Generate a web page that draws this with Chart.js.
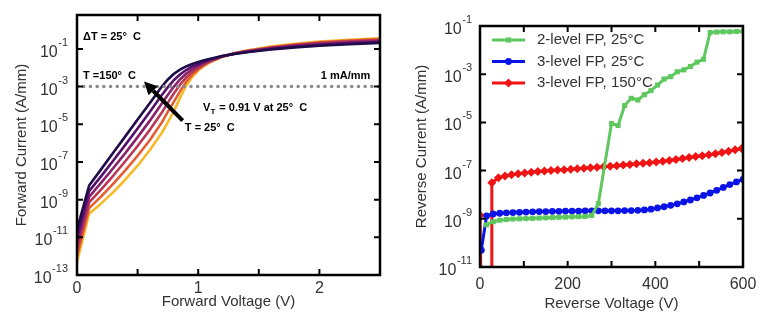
<!DOCTYPE html>
<html>
<head>
<meta charset="utf-8">
<script src="https://cdn.jsdelivr.net/npm/chart.js@4.4.0/dist/chart.umd.min.js"></script>
<style>
  html, body { margin: 0; padding: 0; background: #fff; }
  #wrap { position: relative; width: 768px; height: 323px; }
  .panel { position: absolute; top: 0; height: 323px; }
  #left { left: 0; width: 390px; }
  #right { left: 390px; width: 378px; }
</style>
</head>
<body>
<div id="wrap">
  <div class="panel" id="left"><canvas id="fwd"></canvas></div>
  <div class="panel" id="right"><canvas id="rev"></canvas></div>
</div>
<script>
// forward I-V: bias points (V) and log10 of forward current (A/mm), one list per temperature
const forwardV = [0, 0.1, 0.2, 0.3, 0.4, 0.5, 0.6, 0.7, 0.75, 0.8, 0.85, 0.9, 0.95, 1.0, 1.05, 1.1, 1.2, 1.3, 1.4, 1.6, 1.8, 2.0, 2.25, 2.5];
const temps = [150, 125, 100, 75, 50, 25];
const logIf150 = [-10.6, -8.25, -7.38, -6.5, -5.63, -4.75, -3.88, -3.0, -2.62, -2.32, -2.1, -1.93, -1.8, -1.7, -1.6, -1.52, -1.38, -1.27, -1.18, -1.03, -0.92, -0.83, -0.75, -0.68];
const logIf125 = [-11.0, -8.55, -7.75, -6.92, -6.08, -5.22, -4.35, -3.45, -3.03, -2.65, -2.36, -2.12, -1.94, -1.8, -1.67, -1.56, -1.38, -1.26, -1.16, -1.0, -0.88, -0.78, -0.7, -0.63];
const logIf100 = [-11.35, -8.85, -8.1, -7.32, -6.52, -5.68, -4.82, -3.9, -3.43, -3.0, -2.62, -2.32, -2.08, -1.9, -1.74, -1.6, -1.39, -1.25, -1.14, -0.97, -0.84, -0.74, -0.65, -0.58];
const logIf75 = [-11.7, -9.15, -8.45, -7.72, -6.95, -6.15, -5.3, -4.38, -3.85, -3.35, -2.9, -2.52, -2.23, -2.0, -1.81, -1.64, -1.4, -1.24, -1.12, -0.94, -0.8, -0.69, -0.6, -0.53];
const logIf50 = [-12.0, -9.45, -8.83, -8.15, -7.43, -6.67, -5.85, -4.9, -4.33, -3.8, -3.25, -2.75, -2.38, -2.08, -1.86, -1.68, -1.41, -1.23, -1.1, -0.91, -0.77, -0.65, -0.55, -0.48];
const logIf25 = [-12.3, -9.75, -9.2, -8.6, -7.93, -7.2, -6.38, -5.45, -4.88, -4.3, -3.6, -2.95, -2.5, -2.15, -1.9, -1.7, -1.41, -1.22, -1.08, -0.88, -0.73, -0.61, -0.51, -0.43];
const tempColors = ['#1f0c48', '#550f6d', '#88226a', '#ba3655', '#e55c30', '#f6b92a'];
const refCurrent = 1e-3; // 1 mA/mm threshold

// reverse leakage: bias points (V) and log10 of reverse current (A/mm)
const revV2L25 = [15, 30, 45, 60, 75, 90, 105, 120, 135, 150, 165, 180, 195, 210, 225, 240, 255, 270,
  300, 315, 330, 345, 360, 375, 390, 405, 420, 435, 450, 465, 480, 495, 510, 525, 540, 555, 570, 585, 600];
const logIr2L25 = [-9.25, -9.12, -9.06, -9.03, -9.01, -9.0, -8.99, -8.98, -8.97, -8.96, -8.95, -8.94, -8.93, -8.92, -8.91, -8.9, -8.86, -8.37,
  -5.05, -5.13, -4.3, -4.0, -4.07, -3.85, -3.68, -3.45, -3.2, -3.1, -2.9, -2.82, -2.68, -2.5, -2.38, -1.27, -1.25, -1.24, -1.24, -1.23, -1.22];
const revV3L25 = [3, 15, 30, 45, 60, 75, 90, 105, 120, 135, 150, 165, 180, 195, 210, 225, 240, 255, 270, 285, 300,
  315, 330, 345, 360, 375, 390, 405, 420, 435, 450, 465, 480, 495, 510, 525, 540, 555, 570, 585, 600];
const logIr3L25 = [-10.3, -8.88, -8.8, -8.77, -8.75, -8.74, -8.73, -8.72, -8.71, -8.7, -8.7, -8.69, -8.69, -8.68, -8.68, -8.68, -8.67, -8.67, -8.67, -8.67, -8.67,
  -8.67, -8.66, -8.66, -8.65, -8.63, -8.6, -8.55, -8.5, -8.44, -8.38, -8.3, -8.22, -8.13, -8.03, -7.93, -7.82, -7.7, -7.58, -7.47, -7.37];
const revV3L150 = [0, 3, 26, 27, 42, 57, 72, 87, 102, 117, 132, 147, 162, 177, 192, 207, 222, 237, 252, 267, 282, 297,
  312, 327, 342, 357, 372, 387, 402, 417, 432, 447, 462, 477, 492, 507, 522, 537, 552, 567, 582, 597];
const logIr3L150 = [-8.85, -12.5, -12.5, -7.5, -7.3, -7.22, -7.17, -7.13, -7.1, -7.07, -7.04, -7.02, -7.0, -6.98, -6.96, -6.94, -6.92, -6.9, -6.88, -6.86, -6.84, -6.82,
  -6.8, -6.77, -6.75, -6.72, -6.7, -6.67, -6.64, -6.61, -6.58, -6.54, -6.5, -6.46, -6.42, -6.38, -6.34, -6.3, -6.25, -6.2, -6.14, -6.08];

const FONT = '"Liberation Sans", Arial, Helvetica, sans-serif';
const TEXT = '#333';

function pairs(xs, logs) {
  return xs.map((v, i) => ({ x: v, y: Math.pow(10, logs[i]) }));
}

// box with inward ticks on all sides, 10^n labels and axis titles
const axisFrame = {
  id: 'axisFrame',
  afterDatasetsDraw(chart, args, o) {
    const { ctx, chartArea: a, scales: { x, y } } = chart;
    const yPix = e => y.getPixelForValue(Math.pow(10, e));
    ctx.save();
    ctx.strokeStyle = '#000';
    ctx.lineWidth = 2;
    ctx.beginPath();
    o.xTicks.forEach(v => {
      const px = x.getPixelForValue(v);
      ctx.moveTo(px, a.bottom); ctx.lineTo(px, a.bottom - 6);
      ctx.moveTo(px, a.top); ctx.lineTo(px, a.top + 6);
    });
    o.yTicks.forEach(e => {
      const py = yPix(e);
      ctx.moveTo(a.left, py); ctx.lineTo(a.left + 6, py);
      ctx.moveTo(a.right, py); ctx.lineTo(a.right - 6, py);
    });
    ctx.stroke();
    ctx.lineWidth = 2.5;
    ctx.strokeRect(a.left, a.top, a.right - a.left, a.bottom - a.top);

    ctx.fillStyle = TEXT;
    ctx.textBaseline = 'alphabetic';
    ctx.textAlign = 'center';
    ctx.font = '16px ' + FONT;
    o.xLabels.forEach(v => ctx.fillText(String(v), x.getPixelForValue(v), a.bottom + o.xLabelGap + 6));

    ctx.textAlign = 'right';
    o.yTicks.forEach(e => {
      const py = yPix(e);
      const exp = String(e);
      ctx.font = '11px ' + FONT;
      const ew = ctx.measureText(exp).width;
      const right = a.left - o.yLabelGap;
      ctx.fillText(exp, right, py - 3);
      ctx.font = '16px ' + FONT;
      ctx.fillText('10', right - ew - 0.5, py + 8);
    });

    ctx.font = '15px ' + FONT;
    ctx.textAlign = 'center';
    ctx.textBaseline = 'middle';
    ctx.fillText(o.xTitle, (a.left + a.right) / 2, o.xTitleY);
    ctx.translate(o.yTitleX, (a.top + a.bottom) / 2);
    ctx.rotate(-Math.PI / 2);
    ctx.fillText(o.yTitle, 0, 0);
    ctx.restore();
  }
};

// labels and arrow on the forward plot, placed in data units
const fwdNotes = {
  id: 'fwdNotes',
  afterDatasetsDraw(chart) {
    const { ctx, scales: { x, y } } = chart;
    const px = v => x.getPixelForValue(v);
    const py = e => y.getPixelForValue(Math.pow(10, e));
    ctx.save();
    ctx.fillStyle = '#000';
    ctx.font = 'bold 11px ' + FONT;
    ctx.textBaseline = 'middle';
    ctx.textAlign = 'left';
    ctx.fillText('ΔT = 25°  C', px(0.05), py(-0.36));
    ctx.fillText('T =150°  C', px(0.05), py(-2.42));
    ctx.fillText('T = 25°  C', px(0.89), py(-5.18));
    // V_T with subscript
    let vx = px(1.04);
    const vy = py(-4.15);
    ctx.fillText('V', vx, vy);
    vx += ctx.measureText('V').width;
    ctx.font = 'bold 8px ' + FONT;
    ctx.fillText('T', vx, vy + 4);
    vx += ctx.measureText('T').width + 1;
    ctx.font = 'bold 11px ' + FONT;
    ctx.fillText(' = 0.91 V at 25°  C', vx, vy);
    ctx.textAlign = 'right';
    ctx.fillText('1 mA/mm', px(2.42), py(-2.42));

    // arrow from the 25 °C curve towards the 150 °C curve
    const tx = px(0.872), ty = py(-4.81), hx = px(0.553), hy = py(-2.73);
    const ang = Math.atan2(hy - ty, hx - tx);
    const headLen = 13, headW = 6.5;
    const bx = hx - headLen * Math.cos(ang), by = hy - headLen * Math.sin(ang);
    ctx.strokeStyle = '#000';
    ctx.lineWidth = 4;
    ctx.beginPath();
    ctx.moveTo(tx, ty);
    ctx.lineTo(bx, by);
    ctx.stroke();
    ctx.beginPath();
    ctx.moveTo(hx, hy);
    ctx.lineTo(bx + headW * Math.sin(ang), by - headW * Math.cos(ang));
    ctx.lineTo(bx - headW * Math.sin(ang), by + headW * Math.cos(ang));
    ctx.closePath();
    ctx.fill();
    ctx.restore();
  }
};

function drawMarker(ctx, style, r, cx, cy) {
  ctx.beginPath();
  if (style === 'rect') {
    const s = r * Math.SQRT1_2;
    ctx.rect(cx - s, cy - s, 2 * s, 2 * s);
  } else if (style === 'rectRot') {
    ctx.moveTo(cx, cy - r); ctx.lineTo(cx + r, cy); ctx.lineTo(cx, cy + r); ctx.lineTo(cx - r, cy);
    ctx.closePath();
  } else {
    ctx.arc(cx, cy, r, 0, Math.PI * 2);
  }
  ctx.fill();
}

// legend in the upper left of the reverse plot: line sample with marker, then text
const revLegend = {
  id: 'revLegend',
  afterDatasetsDraw(chart) {
    const { ctx, chartArea: a } = chart;
    ctx.save();
    chart.data.datasets.forEach((ds, i) => {
      const cy = a.top + 14 + i * 21.5;
      const x0 = a.left + 12, x1 = a.left + 45;
      ctx.strokeStyle = ds.borderColor;
      ctx.fillStyle = ds.borderColor;
      ctx.lineWidth = ds.borderWidth;
      ctx.beginPath();
      ctx.moveTo(x0, cy); ctx.lineTo(x1, cy);
      ctx.stroke();
      drawMarker(ctx, ds.pointStyle, ds.pointRadius, (x0 + x1) / 2, cy);
      ctx.fillStyle = TEXT;
      ctx.font = '15px ' + FONT;
      ctx.textAlign = 'left';
      ctx.textBaseline = 'middle';
      ctx.fillText(ds.label, a.left + 57, cy);
    });
    ctx.restore();
  }
};

const fwdSets = [logIf150, logIf125, logIf100, logIf75, logIf50, logIf25].map((logs, i) => ({
  label: 'T = ' + temps[i] + '°C',
  data: pairs(forwardV, logs),
  borderColor: tempColors[i],
  borderWidth: 2.6,
  borderJoinStyle: 'round',
  pointRadius: 0,
  tension: 0
}));
fwdSets.unshift({
  label: '1 mA/mm',
  data: [{ x: 0, y: refCurrent }, { x: 2.5, y: refCurrent }],
  borderColor: '#8c8c8c',
  borderWidth: 3.5,
  borderDash: [0.1, 6.6],
  borderCapStyle: 'round',
  pointRadius: 0
});

new Chart(document.getElementById('fwd'), {
  type: 'line',
  data: { datasets: fwdSets },
  options: {
    responsive: true,
    maintainAspectRatio: false,
    animation: false,
    devicePixelRatio: 1,
    layout: { padding: { left: 77, right: 10, top: 15, bottom: 48 } },
    scales: {
      x: { type: 'linear', min: 0, max: 2.5, display: false },
      y: { type: 'logarithmic', min: 1e-13, max: Math.pow(10, 0.8), display: false }
    },
    plugins: {
      legend: { display: false },
      tooltip: { enabled: false },
      axisFrame: {
        xTicks: [0, 0.5, 1, 1.5, 2], xLabels: [0, 1, 2], xLabelGap: 12,
        yTicks: [-13, -11, -9, -7, -5, -3, -1], yLabelGap: 9,
        xTitle: 'Forward Voltage (V)', xTitleY: 302,
        yTitle: 'Forward Current (A/mm)', yTitleX: 22
      }
    }
  },
  plugins: [axisFrame, fwdNotes]
});

new Chart(document.getElementById('rev'), {
  type: 'line',
  data: {
    datasets: [
      {
        label: '2-level FP, 25°C',
        data: pairs(revV2L25, logIr2L25),
        borderColor: '#5ec85e', backgroundColor: '#5ec85e',
        borderWidth: 3, pointStyle: 'rect', pointRadius: 3.6, pointBorderWidth: 0
      },
      {
        label: '3-level FP, 25°C',
        data: pairs(revV3L25, logIr3L25),
        borderColor: '#0a14e6', backgroundColor: '#0a14e6',
        borderWidth: 3, pointStyle: 'circle', pointRadius: 3.4, pointBorderWidth: 0
      },
      {
        label: '3-level FP, 150°C',
        data: pairs(revV3L150, logIr3L150),
        borderColor: '#f01414', backgroundColor: '#f01414',
        borderWidth: 3, pointStyle: 'rectRot', pointRadius: 4.5, pointBorderWidth: 0
      }
    ]
  },
  options: {
    responsive: true,
    maintainAspectRatio: false,
    animation: false,
    devicePixelRatio: 1,
    layout: { padding: { left: 90, right: 25, top: 26, bottom: 56 } },
    scales: {
      x: { type: 'linear', min: 0, max: 600, display: false },
      y: { type: 'logarithmic', min: 1e-11, max: 1e-1, display: false }
    },
    plugins: {
      legend: { display: false },
      tooltip: { enabled: false },
      axisFrame: {
        xTicks: [100, 200, 300, 400, 500], xLabels: [0, 200, 400, 600], xLabelGap: 16,
        yTicks: [-11, -9, -7, -5, -3, -1], yLabelGap: 8,
        xTitle: 'Reverse Voltage (V)', xTitleY: 304,
        yTitle: 'Reverse Current (A/mm)', yTitleX: 32
      }
    }
  },
  plugins: [axisFrame, revLegend]
});
</script>
</body>
</html>
